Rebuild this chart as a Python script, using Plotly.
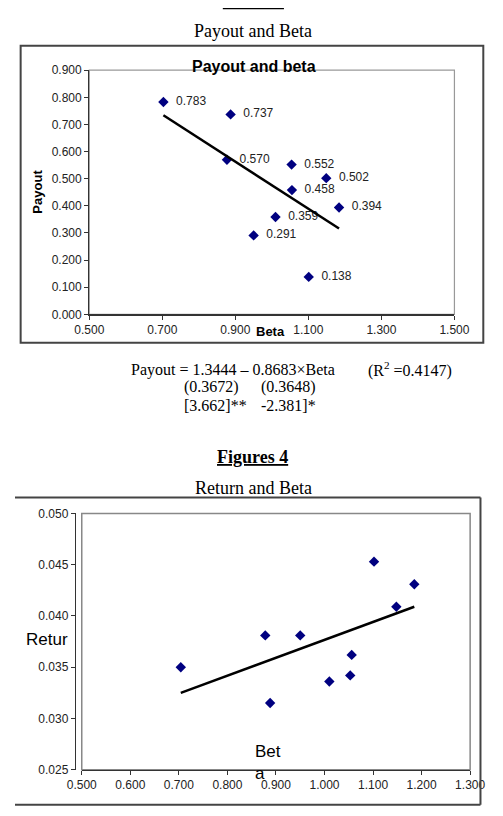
import plotly.graph_objects as go

# ---------------- data ----------------
beta = [0.703, 0.887, 0.877, 1.054, 1.149, 1.055, 1.184, 1.010, 0.950, 1.101]
payout = [0.783, 0.737, 0.570, 0.552, 0.502, 0.458, 0.394, 0.359, 0.291, 0.138]
ret_beta = [0.704, 0.878, 0.950, 0.888, 1.010, 1.053, 1.056, 1.102, 1.148, 1.185]
ret = [0.0350, 0.0381, 0.0381, 0.0315, 0.0336, 0.0342, 0.0362, 0.0453, 0.0409, 0.0431]

# regression results
pay_intercept = 1.3444
pay_slope = -0.8683
pay_se = [0.3672, 0.3648]
pay_t = [3.662, -2.381]
pay_r2 = 0.4147
ret_intercept = 0.02021
ret_slope = 0.01746

pay_xticks = [0.5, 0.7, 0.9, 1.1, 1.3, 1.5]
pay_yticks = [0.0, 0.1, 0.2, 0.3, 0.4, 0.5, 0.6, 0.7, 0.8, 0.9]
ret_xticks = [0.5, 0.6, 0.7, 0.8, 0.9, 1.0, 1.1, 1.2, 1.3]
ret_yticks = [0.025, 0.030, 0.035, 0.040, 0.045, 0.050]

W, H = 503, 816
def px(x):
    return x / W
def py(y):
    return 1 - y / H

SANS = "Liberation Sans, Arial, sans-serif"
SERIF = "Liberation Serif, Times New Roman, serif"
NAVY = "#000080"

fig = go.Figure()

# chart 1 : payout vs beta
fig.add_trace(go.Scatter(
    x=beta, y=payout, mode="markers+text",
    marker=dict(symbol="diamond", size=8, color=NAVY),
    text=[f"  {v:.3f}" for v in payout], textposition="middle right",
    textfont=dict(family=SANS, size=12, color="#222"),
    xaxis="x", yaxis="y", showlegend=False))
bx = [min(beta), max(beta)]
fig.add_trace(go.Scatter(
    x=bx, y=[pay_intercept + pay_slope * b for b in bx], mode="lines",
    line=dict(color="black", width=2.5), xaxis="x", yaxis="y", showlegend=False))

# chart 2 : return vs beta
fig.add_trace(go.Scatter(
    x=ret_beta, y=ret, mode="markers",
    marker=dict(symbol="diamond", size=8, color=NAVY),
    xaxis="x2", yaxis="y2", showlegend=False))
rx = [min(ret_beta), max(ret_beta)]
fig.add_trace(go.Scatter(
    x=rx, y=[ret_intercept + ret_slope * b for b in rx], mode="lines",
    line=dict(color="black", width=2.5), xaxis="x2", yaxis="y2", showlegend=False))

tickfont = dict(family=SANS, size=12, color="#222")
axis_common = dict(showgrid=False, zeroline=False, showline=True, linecolor="#333",
                   linewidth=1.2, ticks="outside", ticklen=4, tickcolor="#333",
                   tickfont=tickfont, fixedrange=True)

fig.update_layout(
    width=W, height=H, margin=dict(l=0, r=0, t=0, b=0),
    paper_bgcolor="white", plot_bgcolor="white",
    xaxis=dict(domain=[px(79), px(467.3)], range=[0.5, 1.5], tickvals=pay_xticks,
               tickformat=".3f", anchor="y", **axis_common),
    yaxis=dict(domain=[py(312.7), py(64.3)], range=[0, 0.9], tickvals=pay_yticks,
               tickformat=".3f", anchor="x", **axis_common),
    xaxis2=dict(domain=[px(71), px(484)], range=[0.5, 1.3], tickvals=ret_xticks,
                tickformat=".3f", anchor="y2", **axis_common),
    yaxis2=dict(domain=[py(776), py(515.3)], range=[0.025, 0.050], tickvals=ret_yticks,
                tickformat=".3f", anchor="free", position=px(63.5), **axis_common),
)

shapes = []
box = dict(color="#444", width=2)
# outer box chart 1
shapes.append(dict(type="rect", xref="paper", yref="paper", x0=px(6), x1=px(498),
                   y0=py(341.7), y1=py(39.5), line=box))
# outer box chart 2 (its left side lies beyond the page edge)
for (x0, y0, x1, y1) in [(0, 499, 495, 499), (495, 499, 495, 811.7), (0, 811.7, 495, 811.7)]:
    shapes.append(dict(type="line", xref="paper", yref="paper", x0=px(x0), x1=px(x1),
                       y0=py(y0), y1=py(y1), line=box))
# underline of the cut-off heading at the very top
shapes.append(dict(type="line", xref="paper", yref="paper", x0=px(221), x1=px(286),
                   y0=py(1.7), y1=py(1.7), line=dict(color="black", width=1.2)))
# plot-area borders
shapes.append(dict(type="rect", xref="x domain", yref="y domain", x0=0, x1=1, y0=0, y1=1,
                   line=dict(color="#999", width=1.2), layer="below"))
shapes.append(dict(type="rect", xref="x2 domain", yref="y2 domain", x0=0, x1=1, y0=0, y1=1,
                   line=dict(color="#888", width=1.5), layer="below"))
fig.update_layout(shapes=shapes)

ann = []
def add(text, x, y, size, family=SANS, xanchor="center", yanchor="middle", angle=0, align="center"):
    ann.append(dict(text=text, x=px(x), y=py(y), xref="paper", yref="paper",
                    xanchor=xanchor, yanchor=yanchor, showarrow=False, textangle=angle,
                    align=align, font=dict(family=family, size=size, color="black")))

add("Payout and Beta", 252.7, 24, 18, SERIF)
add("<b>Payout and beta</b>", 254, 60.7, 16)
add("<b>Payout</b>", 24.3, 188, 13, angle=-90)
add("<b>Beta</b>", 272, 330, 13)

add(f"Payout = {pay_intercept:.4f} – {abs(pay_slope):.4f}×Beta", 120.7, 369, 16, SERIF, xanchor="left")
add(f"(R<sup>2</sup> ={pay_r2:.4f})", 373, 369, 16, SERIF, xanchor="left")
add(f"({pay_se[0]:.4f})", 177.7, 387, 16, SERIF, xanchor="left")
add(f"({pay_se[1]:.4f})", 259.3, 387, 16, SERIF, xanchor="left")
add(f"[{pay_t[0]:.3f}]**", 177.3, 405, 16, SERIF, xanchor="left")
add(f"{pay_t[1]:.3f}]*", 259.3, 405, 16, SERIF, xanchor="left")

add("<b><u>Figures 4</u></b>", 253, 457.7, 18, SERIF)
add("Return and Beta", 253.5, 489, 18, SERIF)
add("Retur", 34, 644, 17)
add("Bet<br>a", 253, 768.5, 17, xanchor="left", align="left")

fig.update_layout(annotations=ann)

fig.write_html("out.html", config={"staticPlot": True, "displayModeBar": False})
